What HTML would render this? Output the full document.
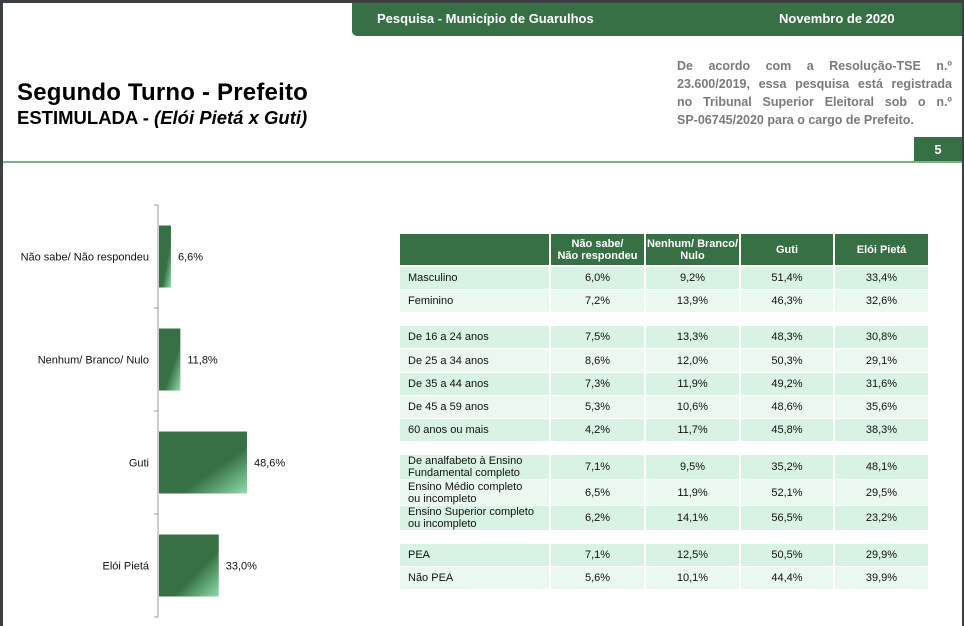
<!DOCTYPE html>
<html><head><meta charset="utf-8"><style>
body{margin:0;width:964px;height:626px;overflow:hidden;background:#fff;font-family:"Liberation Sans",sans-serif;position:relative}
.a{position:absolute}
.frame{left:0;top:0;width:964px;height:626px;box-sizing:border-box;border-left:3px solid #3c3f41;border-top:3px solid #3c3f41;border-right:2px solid #3c3f41}
.cell{position:absolute;font-size:11px;color:#111;display:flex;align-items:center;justify-content:center;text-align:center;line-height:12px}
.lab{justify-content:flex-start;text-align:left;padding-left:8px;box-sizing:border-box}
.hd{background:#367044;color:#fff;font-weight:bold}
.nl{display:block;text-align:justify;text-align-last:justify;height:18px}
</style></head><body>
<div class="a frame"></div>
<div class="a" style="left:352px;top:3px;width:610px;height:33px;background:#367044;border-bottom-left-radius:5px"></div>
<div class="a" style="left:377px;top:11px;font-size:13px;font-weight:bold;color:#fff">Pesquisa - Município de Guarulhos</div>
<div class="a" style="left:779px;top:11px;font-size:13px;font-weight:bold;color:#fff">Novembro de 2020</div>
<div class="a" style="left:17px;top:79px;font-size:24px;font-weight:bold;color:#000;letter-spacing:0.2px">Segundo Turno - Prefeito</div>
<div class="a" style="left:17px;top:107px;font-size:18.5px;font-weight:bold;color:#000">ESTIMULADA - <i>(Elói Pietá x Guti)</i></div>
<div class="a" style="left:677px;top:57px;width:275px;font-size:12.5px;font-weight:bold;color:#7a7a7a;line-height:18px">
<span class="nl">De acordo com a Resolução-TSE n.º</span>
<span class="nl">23.600/2019, essa pesquisa está registrada</span>
<span class="nl">no Tribunal Superior Eleitoral sob o n.º</span>
<span style="display:block">SP-06745/2020 para o cargo de Prefeito.</span></div>
<div class="a" style="left:914px;top:137px;width:48px;height:25px;background:#367044;color:#fff;font-weight:bold;font-size:13px;display:flex;align-items:center;justify-content:center">5</div>
<div class="a" style="left:3px;top:161px;width:959px;height:2px;background:#7fb07f"></div>

<svg class="a" id="chart" style="left:0;top:0" width="400" height="626">
<defs><linearGradient id="g" x1="0" y1="0" x2="1" y2="1"><stop offset="0.62" stop-color="#367044"/><stop offset="1" stop-color="#8fdcaa"/></linearGradient></defs>
</svg>

<div id="tbl"></div>

<script>
const categories=["Não sabe/ Não respondeu","Nenhum/ Branco/ Nulo","Guti","Elói Pietá"];
const values=[6.6,11.8,48.6,33.0];
const valueLabels=["6,6%","11,8%","48,6%","33,0%"];
const svg=document.getElementById('chart');
const NS="http://www.w3.org/2000/svg";
const x0=158,top0=205,band=103,barH=62;
const xs=v=>x0+v*1.81;
const yb=i=>top0+i*band;
function mk(t,a){const e=document.createElementNS(NS,t);for(const k in a)e.setAttribute(k,a[k]);svg.appendChild(e);return e;}
const ax=mk('line',{x1:x0,y1:top0,x2:x0,y2:top0+band*categories.length,stroke:'#999','stroke-width':1});


for(let i=0;i<=categories.length;i++){
 const t=mk('line',{x1:x0-4,y1:yb(i),x2:x0,y2:yb(i),stroke:'#999'});
 
 
}
categories.forEach((c,i)=>{
 const yc=yb(i)+band/2;
 const r=mk('rect',{x:x0+1,y:yc-barH/2,width:xs(values[i])-x0,height:barH,fill:'url(#g)'});
 
 
 const l=mk('text',{x:x0-9,y:yc+4,'text-anchor':'end','font-size':11,fill:'#111'});
 l.textContent=c;
 
 
 const v=mk('text',{x:xs(values[i])+8,y:yc+4,'font-size':11,fill:'#111'});
 v.textContent=valueLabels[i];
 
 
});

const colX=[400,551,646,741,835,928];
const headers=["","Não sabe/<br>Não respondeu","Nenhum/ Branco/<br>Nulo","Guti","Elói Pietá"];
const rowLabels=["Masculino","Feminino","De 16 a 24 anos","De 25 a 34 anos","De 35 a 44 anos","De 45 a 59 anos","60 anos ou mais","De analfabeto à Ensino<br>Fundamental completo","Ensino Médio completo<br>ou incompleto","Ensino Superior completo<br>ou incompleto","PEA","Não PEA"];
const colNS=["6,0%","7,2%","7,5%","8,6%","7,3%","5,3%","4,2%","7,1%","6,5%","6,2%","7,1%","5,6%"];
const colNBN=["9,2%","13,9%","13,3%","12,0%","11,9%","10,6%","11,7%","9,5%","11,9%","14,1%","12,5%","10,1%"];
const colGuti=["51,4%","46,3%","48,3%","50,3%","49,2%","48,6%","45,8%","35,2%","52,1%","56,5%","50,5%","44,4%"];
const colEloi=["33,4%","32,6%","30,8%","29,1%","31,6%","35,6%","38,3%","48,1%","29,5%","23,2%","29,9%","39,9%"];
const rowY=[[267,289],[290,312],[326,348],[349,372],[373,395],[396,418],[419,441],[455,479],[480,505],[506,530],[544,566],[567,589]];
const rowDark=[1,0,1,0,1,0,1,1,0,1,1,0];
const tbl=document.getElementById('tbl');
function cell(x,y,w,h,html,cls,bg){const d=document.createElement('div');d.className='cell '+cls;d.style.cssText=`left:${x}px;top:${y}px;width:${w}px;height:${h}px;`+(bg?`background:${bg};`:'');d.innerHTML=html;tbl.appendChild(d);return d;}
headers.forEach((h,j)=>{
 const d=cell(colX[j],234,colX[j+1]-colX[j]-(j<4?2:0),31,h,'hd');
 
 
});
const cols=[colNS,colNBN,colGuti,colEloi];
rowLabels.forEach((lab,i)=>{
 const [y1,y2]=rowY[i];
 const bg=rowDark[i]?'#d8f2e3':'#ebf8f0';
 const d=cell(colX[0],y1,colX[1]-colX[0]-2,y2-y1,lab,'lab',bg);
 
 
 cols.forEach((c,j)=>{
  const e=cell(colX[j+1],y1,colX[j+2]-colX[j+1]-(j<3?2:0),y2-y1,c[i],'',bg);
  
  
 });
});
</script>
</body></html>
